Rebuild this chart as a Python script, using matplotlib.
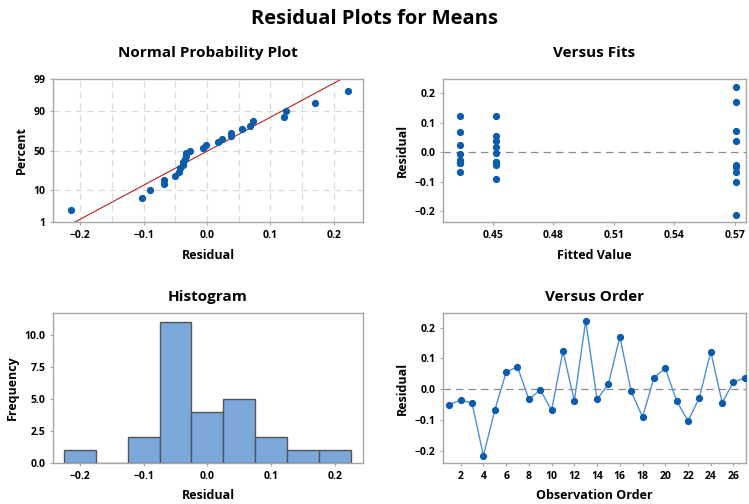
import numpy as np
import matplotlib
matplotlib.use("Agg")
import matplotlib.pyplot as plt
from statistics import NormalDist

# residuals in observation order
residuals = [-0.050, -0.035, -0.045, -0.215, -0.068, 0.055, 0.073, -0.033, -0.002,
             -0.068, 0.124, -0.038, 0.222, -0.033, 0.017, 0.170, -0.007, -0.090,
             0.037, 0.068, -0.038, -0.103, -0.027, 0.122, -0.043, 0.023, 0.037]
# fitted value for each observation
fits = [0.5705, 0.4336, 0.4515, 0.5705, 0.4336, 0.4515, 0.5705, 0.4515, 0.4515,
        0.5705, 0.4336, 0.4336, 0.5705, 0.4515, 0.4515, 0.5705, 0.4336, 0.4515,
        0.4515, 0.4336, 0.4336, 0.5705, 0.4336, 0.4515, 0.5705, 0.4336, 0.5705]
order = list(range(1, len(residuals) + 1))

pct_ticks = [1, 10, 50, 90, 99]
hist_edges = [-0.225, -0.175, -0.125, -0.075, -0.025, 0.025, 0.075, 0.125, 0.175, 0.225]

plt.rcParams['font.family'] = ['Open Sans', 'DejaVu Sans']
plt.rcParams['font.weight'] = 'bold'

BLUE = '#0b5cad'
SPINE = '#a6a6a6'
GRID = '#d9d9d9'
nd = NormalDist()


def style(ax):
    for s in ax.spines.values():
        s.set_color(SPINE)
        s.set_linewidth(1.0)
    ax.tick_params(length=2.5, width=0.8, color=SPINE, labelsize=7.5, pad=3)
    for lab in ax.get_xticklabels() + ax.get_yticklabels():
        lab.set_fontweight('bold')


fig = plt.figure(figsize=(7.49, 5.04), dpi=100)
fig.text(0.5, 0.962, 'Residual Plots for Means', ha='center', va='center',
         fontsize=14.5, fontweight='bold')

ax1 = fig.add_axes([0.0708, 0.5595, 0.4139, 0.2837])
ax2 = fig.add_axes([0.5915, 0.5595, 0.4045, 0.2837])
ax3 = fig.add_axes([0.0708, 0.0813, 0.4139, 0.2976])
ax4 = fig.add_axes([0.5915, 0.0813, 0.4045, 0.2976])

# normal probability plot
r = np.sort(np.array(residuals))
n = len(r)
ranks = (np.arange(1, n + 1) - 0.3) / (n + 0.4)
z_pts = [nd.inv_cdf(p) for p in ranks]
mu, sd = np.mean(r), np.std(r, ddof=1)
zlo, zhi = nd.inv_cdf(0.01), nd.inv_cdf(0.99)
zl = np.linspace(zlo, zhi, 50)
ax1.set_xlim(-0.243, 0.246)
ax1.set_ylim(zlo, zhi)
for gx in np.arange(-0.2, 0.201, 0.05):
    ax1.axvline(gx, color=GRID, lw=0.9, ls=(0, (5, 4)), zorder=0)
for p in pct_ticks[1:-1]:
    ax1.axhline(nd.inv_cdf(p / 100), color=GRID, lw=0.9, ls=(0, (5, 4)), zorder=0)
ax1.plot(mu + sd * zl, zl, color='#b22222', lw=0.8, zorder=2)
ax1.plot(r, z_pts, 'o', color=BLUE, ms=4.2, zorder=3)
ax1.set_yticks([nd.inv_cdf(p / 100) for p in pct_ticks])
ax1.set_yticklabels([str(p) for p in pct_ticks])
ax1.set_xticks([-0.2, -0.1, 0.0, 0.1, 0.2])
ax1.set_title('Normal Probability Plot', fontsize=11, fontweight='bold', pad=16)
ax1.set_xlabel('Residual', fontsize=9, fontweight='bold', labelpad=6)
ax1.set_ylabel('Percent', fontsize=9, fontweight='bold', labelpad=4)
style(ax1)

# versus fits
ax2.axhline(0, color='#8c8c8c', lw=0.9, ls=(0, (6, 4)), zorder=1)
ax2.plot(fits, residuals, 'o', color=BLUE, ms=4.2, zorder=3)
ax2.set_xlim(0.4252, 0.5755)
ax2.set_ylim(-0.2375, 0.248)
ax2.set_xticks([0.45, 0.48, 0.51, 0.54, 0.57])
ax2.set_xticklabels(['0.45', '0.48', '0.51', '0.54', '0.57'])
ax2.set_yticks([-0.2, -0.1, 0.0, 0.1, 0.2])
ax2.set_title('Versus Fits', fontsize=11, fontweight='bold', pad=16)
ax2.set_xlabel('Fitted Value', fontsize=9, fontweight='bold', labelpad=6)
ax2.set_ylabel('Residual', fontsize=9, fontweight='bold', labelpad=4)
style(ax2)

# histogram
ax3.hist(residuals, bins=hist_edges, color='#7ba7da', edgecolor='#555555', lw=1.0)
ax3.set_xlim(-0.242, 0.244)
ax3.set_ylim(0, 11.7)
ax3.set_xticks([-0.2, -0.1, 0.0, 0.1, 0.2])
ax3.set_yticks([0, 2.5, 5.0, 7.5, 10.0])
ax3.set_yticklabels(['0.0', '2.5', '5.0', '7.5', '10.0'])
ax3.set_title('Histogram', fontsize=11, fontweight='bold', pad=9)
ax3.set_xlabel('Residual', fontsize=9, fontweight='bold', labelpad=5)
ax3.set_ylabel('Frequency', fontsize=9, fontweight='bold', labelpad=4)
style(ax3)

# versus order
ax4.axhline(0, color='#8c8c8c', lw=0.9, ls=(0, (6, 4)), zorder=1)
ax4.plot(order, residuals, '-', color='#4f8fd6', lw=1.0, zorder=2)
ax4.plot(order, residuals, 'o', color=BLUE, ms=4.2, zorder=3)
ax4.set_xlim(0.45, 27.1)
ax4.set_ylim(-0.239, 0.247)
ax4.set_xticks(range(2, 27, 2))
ax4.set_yticks([-0.2, -0.1, 0.0, 0.1, 0.2])
ax4.set_title('Versus Order', fontsize=11, fontweight='bold', pad=9)
ax4.set_xlabel('Observation Order', fontsize=9, fontweight='bold', labelpad=5)
ax4.set_ylabel('Residual', fontsize=9, fontweight='bold', labelpad=4)
style(ax4)

fig.savefig('out.png', dpi=100)
